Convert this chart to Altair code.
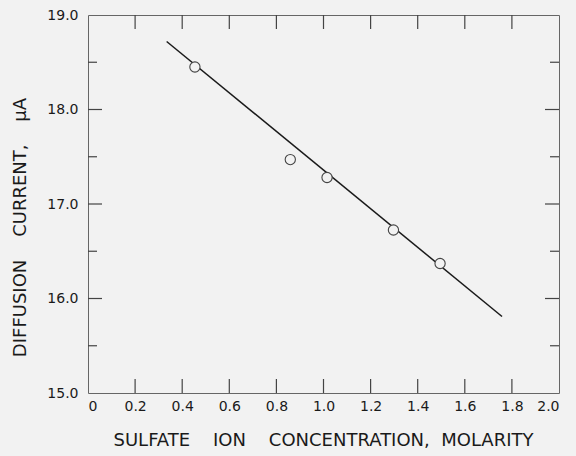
import altair as alt
import pandas as pd

# data
conc = [0.454, 0.859, 1.015, 1.297, 1.495]
current = [18.45, 17.47, 17.28, 16.725, 16.37]
fit_x = [0.334, 1.758]
fit_y = [18.72, 15.81]
x_ticks = [0.2, 0.4, 0.6, 0.8, 1.0, 1.2, 1.4, 1.6, 1.8]
y_major = [16.0, 17.0, 18.0]
y_minor = [15.5, 16.5, 17.5, 18.5]
x_labels = [0, 0.2, 0.4, 0.6, 0.8, 1.0, 1.2, 1.4, 1.6, 1.8, 2.0]
y_labels = [15.0, 16.0, 17.0, 18.0, 19.0]

W, H = 471, 378
BG = "#f2f2f2"
INK = "#1a1a1a"
NB = "\u00a0"

pts = pd.DataFrame({"x": conc, "y": current})
fit = pd.DataFrame({"x": fit_x, "y": fit_y})
xt = pd.DataFrame({"x": x_ticks})
ymaj = pd.DataFrame({"y": y_major})
ymin = pd.DataFrame({"y": y_minor})

xscale = alt.Scale(domain=[0, 2], nice=False, zero=False)
yscale = alt.Scale(domain=[15, 19], nice=False, zero=False)

xtitle = "SULFATE" + NB * 4 + "ION" + NB * 4 + "CONCENTRATION," + NB * 2 + "MOLARITY"
ytitle = "DIFFUSION" + NB * 4 + "CURRENT," + NB * 4 + "\u00b5A"

xaxis = alt.Axis(values=x_labels, labelExpr="datum.value == 0 ? '0' : format(datum.value, '.1f')",
                 ticks=False, domain=False, grid=False, labelPadding=6,
                 title=xtitle, titleX=235, titleY=47, titleBaseline="middle", titleAlign="center")
yaxis = alt.Axis(values=y_labels, format=".1f", ticks=False, domain=False, grid=False,
                 labelPadding=10, title=ytitle, titleX=-68, titleY=212, titleAngle=-90,
                 titleBaseline="middle", titleAlign="center")

line = alt.Chart(fit).mark_line(color=INK, strokeWidth=1.5).encode(
    x=alt.X("x:Q", scale=xscale, axis=xaxis),
    y=alt.Y("y:Q", scale=yscale, axis=yaxis),
)
points = alt.Chart(pts).mark_point(shape="circle", size=105, filled=False, fill=BG, fillOpacity=1,
                                   stroke="#444444", strokeWidth=1.1, opacity=1).encode(
    x=alt.X("x:Q", scale=xscale), y=alt.Y("y:Q", scale=yscale)
)
tick_style = dict(color="#444444", strokeWidth=1.2)
xb = alt.Chart(xt).mark_rule(**tick_style).encode(
    x=alt.X("x:Q", scale=xscale), y=alt.value(H), y2=alt.value(H - 14))
xtp = alt.Chart(xt).mark_rule(**tick_style).encode(
    x=alt.X("x:Q", scale=xscale), y=alt.value(0), y2=alt.value(14))
ylm = alt.Chart(ymaj).mark_rule(**tick_style).encode(
    y=alt.Y("y:Q", scale=yscale), x=alt.value(0), x2=alt.value(14))
yln = alt.Chart(ymin).mark_rule(**tick_style).encode(
    y=alt.Y("y:Q", scale=yscale), x=alt.value(0), x2=alt.value(9))
yrm = alt.Chart(ymaj).mark_rule(**tick_style).encode(
    y=alt.Y("y:Q", scale=yscale), x=alt.value(W), x2=alt.value(W - 14))
yrn = alt.Chart(ymin).mark_rule(**tick_style).encode(
    y=alt.Y("y:Q", scale=yscale), x=alt.value(W), x2=alt.value(W - 9))

chart = alt.layer(xb, xtp, ylm, yln, yrm, yrn, line, points).properties(
    width=W, height=H,
    autosize=alt.AutoSizeParams(type="none"),
    padding={"left": 88, "top": 15, "right": 17, "bottom": 63},
    background=BG,
).configure_view(stroke="#666666", strokeWidth=1).configure_axis(
    labelFont="DejaVu Sans", labelFontSize=14, labelColor=INK,
    titleFont="DejaVu Sans", titleFontSize=18, titleFontWeight="normal", titleColor=INK,
)

chart.save("out.html", embed_options={"renderer": "svg", "actions": False})
